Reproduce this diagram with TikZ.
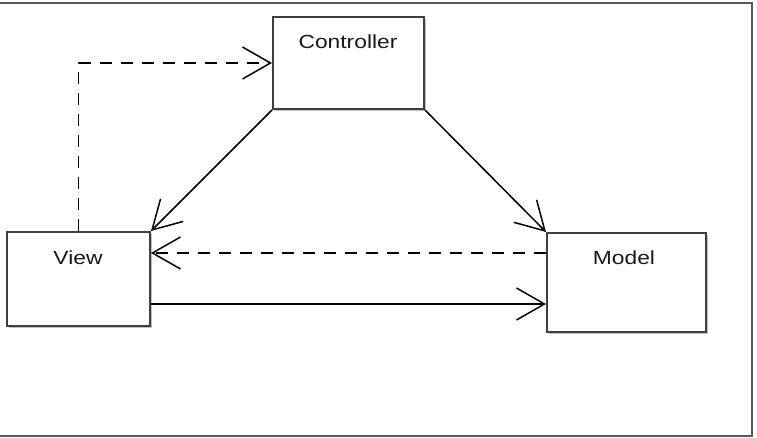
\documentclass[tikz,border=0pt]{standalone}
\usepackage{fontspec}
\setmainfont{Liberation Sans}
\usetikzlibrary{arrows.meta,shadows}
\begin{document}
\begin{tikzpicture}[x=1pt,y=-1pt,
  box/.style={draw=black!75, line width=2pt, fill=white, anchor=north west, inner sep=0pt,
    drop shadow={shadow xshift=2pt, shadow yshift=-2pt, opacity=0.25, fill=black}},
  lbl/.style={font=\fontsize{19}{20}\selectfont, text=black!90, inner sep=0pt},
  conn/.style={line width=1.5pt, -{Straight Barb[length=28pt,width=32pt,line width=1.5pt]}},
  dsh/.style={conn, dash pattern=on 12pt off 9pt},
  frame/.style={draw=black!65, line width=2pt}]
\useasboundingbox (0,0) rectangle (757,438);
\draw[frame] (-3,3) -- (752,3) -- (752,436) -- (-3,436);
\node[box, minimum width=151pt, minimum height=92pt] (C) at (272,16) {};
\node[box, minimum width=143pt, minimum height=94pt] (V) at (6,231) {};
\node[box, minimum width=159pt, minimum height=99pt] (M) at (546,232) {};
\node[lbl] (Ct) at (348,42) {\scalebox{1.2}[1]{Controller}};
\node[lbl] (Vt) at (78,258) {\scalebox{1.2}[1]{View}};
\node[lbl] (Mt) at (624,258) {\scalebox{1.2}[1]{Model}};
\draw[conn] (C.south west) -- (V.north east);
\draw[conn] (C.south east) -- (M.north west);
\coordinate (md) at ([yshift=-21pt]M.north west);
\draw[dsh] (md) -- (md -| V.east);
\coordinate (vs) at ([yshift=-25pt]V.east);
\draw[conn] (vs) -- (vs -| M.west);
\draw[dsh] (V.north) |- (C.west);
\end{tikzpicture}
\end{document}
